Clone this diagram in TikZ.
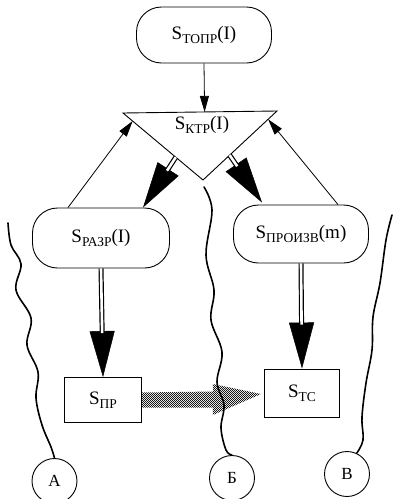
\documentclass[tikz,border=0pt]{standalone}
\usepackage{fontspec}
\setmainfont{Liberation Serif}
\usetikzlibrary{arrows.meta,calc,patterns}
\newcommand{\sub}[1]{\raisebox{-0.5ex}{\fontsize{13.5}{15}\selectfont #1}}
% fine checkerboard used for the shaded transfer arrow
\pgfdeclarepatternformonly{checks}{\pgfpointorigin}{\pgfqpoint{2.4pt}{2.4pt}}{\pgfqpoint{2.4pt}{2.4pt}}{%
  \pgfpathrectangle{\pgfpointorigin}{\pgfqpoint{1.2pt}{1.2pt}}%
  \pgfpathrectangle{\pgfqpoint{1.2pt}{1.2pt}}{\pgfqpoint{1.2pt}{1.2pt}}%
  \pgfusepath{fill}}
\begin{document}
\begin{tikzpicture}[x=1pt,y=-1pt,
  every node/.style={font=\fontsize{19}{22}\selectfont},
  stadium/.style={draw,line width=0.9pt,rounded corners=25pt,inner sep=0pt},
  plainbox/.style={draw,line width=0.9pt,inner sep=0pt},
  ring/.style={draw,circle,line width=0.9pt,minimum size=45pt,inner sep=0pt},
  thinarrow/.style={line width=0.8pt,-{Triangle[length=16pt,width=9pt]}},
  headarrow/.style={line width=0.5pt,-{Triangle[length=46pt,width=25pt]}},
  shaft/.style={line width=1.2pt,double=white,double distance=2.6pt},
  wave/.style={line width=1.6pt,line cap=round},
  hatch/.style={pattern=checks,pattern color=black!90}
]
\useasboundingbox (0,0) rectangle (394,499);

% blocks
\node[stadium,minimum width=135pt,minimum height=56pt] (topr) at (204,35) {S\sub{ТОПР}(I)};
\node[stadium,minimum width=137pt,minimum height=60pt] (razr) at (101,238) {S\sub{РАЗР}(I)};
\node[stadium,minimum width=135pt,minimum height=58pt] (proizv) at (301,234) {S\sub{ПРОИЗВ}(m)};
\node[plainbox,minimum width=77pt,minimum height=45pt] (pr) at (103,400) {S\sub{ПР}};
\node[plainbox,minimum width=75pt,minimum height=48pt] (tc) at (302,393) {S\sub{ТС}};

% inverted triangle
\coordinate (tl) at (123,113);
\coordinate (tr) at (277,111);
\coordinate (bt) at (203,180);
\draw[line width=0.9pt,line join=miter] (tl) -- (tr) -- (bt) -- cycle;
\node (ktp) at (202,125) {S\sub{КТР}(I)};

% circles
\node[ring,font=\fontsize{17}{20}\selectfont] (ca) at (54.5,481) {А};
\node[ring,font=\fontsize{17}{20}\selectfont] (cb) at (232,478) {Б};
\node[ring,font=\fontsize{17}{20}\selectfont] (cv) at (347,474) {В};

% single arrows
\draw[thinarrow] (topr.south) -- ($(tl)!0.53!(tr)$);
\draw[thinarrow] ($(razr.north)+(-33,0)$) -- ($(tl)!0.12!(bt)$);
\draw[thinarrow] ($(proizv.north)+(37,0)$) -- ($(tr)!0.12!(bt)$);

% heavy double arrows
\coordinate (ls) at ($(tl)!0.66!(bt)$);
\coordinate (rs) at ($(tr)!0.64!(bt)$);
\coordinate (lt) at ($(razr.north)+(42,0)$);
\coordinate (rt) at ($(proizv.north)+(-39,-2)$);
\draw[headarrow] (ls) -- (lt);
\draw[shaft,shorten >=44pt] (ls) -- (lt);
\draw[headarrow] (rs) -- (rt);
\draw[shaft,shorten >=44pt] (rs) -- (rt);

\draw[headarrow] (razr.south) -- (pr.north);
\draw[shaft,shorten >=44pt] (razr.south) -- (pr.north);
\draw[headarrow] (proizv.south) -- (tc.north);
\draw[shaft,shorten >=44pt] (proizv.south) -- (tc.north);

% shaded transfer arrow
\coordinate (tip) at ($(tc.west)+(-3,1)$);
\path[hatch] ($(pr.east)+(0,-7.5)$) -- ($(pr.east)+(71,-8.5)$) -- ($(pr.east)+(71,-16)$)
  -- (tip) -- ($(pr.east)+(71,15)$) -- ($(pr.east)+(71,7.5)$) -- ($(pr.east)+(0,7.5)$) -- cycle;

% wavy boundaries
\draw[wave] plot[smooth,tension=0.6] coordinates {(8,223) (11,245) (21,264) (16,290) (31,318) (27,345) (38,372) (36,398) (42,425) (51,447) (ca.north)};
\draw[wave] plot[smooth,tension=0.6] coordinates {(204,187) (212,210) (206,255) (214,290) (211,320) (222,352) (217,382) (224,405) (221,428) (226,450) (cb.north)};
\draw[wave] plot[smooth,tension=0.6] coordinates {(392,215) (386,240) (380,283) (373,317) (372,350) (366,383) (362,417) (363,440) (cv.65)};
\end{tikzpicture}
\end{document}
